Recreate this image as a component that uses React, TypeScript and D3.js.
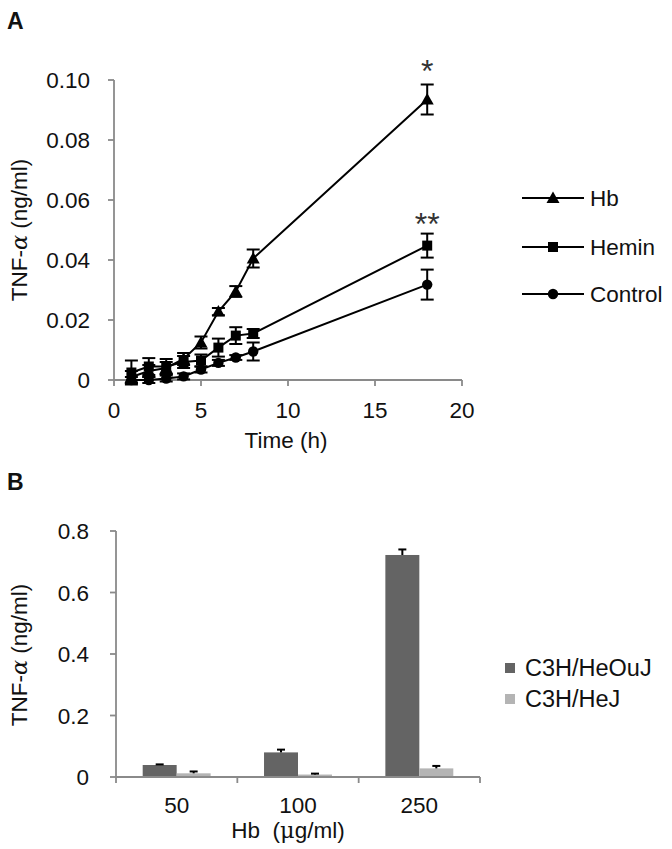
import React from "react";
import * as d3 from "d3";

const timeH = [1, 2, 3, 4, 5, 6, 7, 8, 18];
const hbVals = [0.001, 0.003, 0.004, 0.007, 0.0125, 0.0228, 0.0295, 0.0405, 0.0935];
const hbErr = [0.002, 0.002, 0.002, 0.002, 0.002, 0.0012, 0.0018, 0.003, 0.005];
const heminVals = [0.0025, 0.0045, 0.0045, 0.006, 0.0065, 0.0108, 0.0148, 0.0155, 0.0448];
const heminErr = [0.004, 0.0028, 0.0025, 0.002, 0.002, 0.003, 0.0028, 0.0015, 0.004];
const controlVals = [0, 0, 0.0005, 0.0012, 0.0035, 0.0057, 0.0075, 0.0095, 0.0318];
const controlErr = [0.001, 0.001, 0.001, 0.001, 0.001, 0.001, 0.0008, 0.003, 0.005];
const seriesNames = ["Hb", "Hemin", "Control"];
const yTicksA = [0, 0.02, 0.04, 0.06, 0.08, 0.1];
const xTicksA = [0, 5, 10, 15, 20];

const doses = ["50", "100", "250"];
const heoujVals = [0.039, 0.08, 0.722];
const heoujErr = [0.002, 0.009, 0.018];
const hejVals = [0.012, 0.008, 0.028];
const hejErr = [0.006, 0.003, 0.008];
const barNames = ["C3H/HeOuJ", "C3H/HeJ"];
const yTicksB = [0, 0.2, 0.4, 0.6, 0.8];

const FONT = "'Liberation Sans', Arial, sans-serif";
const AXIS = "#8a8a8a";
const DARK = "#646464";
const LIGHT = "#b4b4b4";
const FS = 22.5;

function Marker({ type, x, y }: { type: string; x: number; y: number }) {
  if (type === "tri") {
    const s = 6.5;
    return <path d={`M${x},${y - s}L${x + s},${y + s * 0.75}L${x - s},${y + s * 0.75}Z`} fill="#000" />;
  }
  if (type === "sq") return <rect x={x - 5} y={y - 5} width={10} height={10} fill="#000" />;
  return <circle cx={x} cy={y} r={5.2} fill="#000" />;
}

export default function App() {
  // Panel A
  const xA = d3.scaleLinear().domain([0, 20]).range([114, 462]);
  const yA = d3.scaleLinear().domain([0, 0.1]).range([380, 80]);
  const series = [
    { name: seriesNames[2], vals: controlVals, err: controlErr, m: "circ" },
    { name: seriesNames[1], vals: heminVals, err: heminErr, m: "sq" },
    { name: seriesNames[0], vals: hbVals, err: hbErr, m: "tri" },
  ];
  const line = d3
    .line<number>()
    .x((_, i) => xA(timeH[i]))
    .y((d) => yA(d));

  // Panel B
  const xB = d3.scaleBand<string>().domain(doses).range([116, 480]);
  const yB = d3.scaleLinear().domain([0, 0.8]).range([777, 531]);
  const barW = xB.bandwidth() * 0.28;

  const legendA = [
    { name: seriesNames[0], m: "tri", y: 198 },
    { name: seriesNames[1], m: "sq", y: 247 },
    { name: seriesNames[2], m: "circ", y: 294 },
  ];

  return (
    <svg width={672} height={849} style={{ position: "absolute", left: 0, top: 0, background: "#fff" }} fontFamily={FONT}>
      <rect width={672} height={849} fill="#fff" />
      {/* Panel A label */}
      <text x={7} y={29} fontSize={23} fontWeight="bold" fill="#111">A</text>

      {/* Axes A */}
      <line x1={114} x2={114} y1={yA(0.1)} y2={yA(0)} stroke={AXIS} strokeWidth={1.8} />
      <line x1={114} x2={462} y1={380} y2={380} stroke={AXIS} strokeWidth={1.8} />
      {yTicksA.map((t) => (
        <g key={t}>
          <line x1={108} x2={114} y1={yA(t)} y2={yA(t)} stroke={AXIS} strokeWidth={1.8} />
          <text x={90} y={yA(t)} dy="0.36em" textAnchor="end" fontSize={FS} fill="#111">
            {t === 0 ? "0" : t.toFixed(2)}
          </text>
        </g>
      ))}
      {xTicksA.map((t) => (
        <g key={t}>
          <line x1={xA(t)} x2={xA(t)} y1={380} y2={386} stroke={AXIS} strokeWidth={1.8} />
          <text x={xA(t)} y={410} dy="0.36em" textAnchor="middle" fontSize={FS} fill="#111">{t}</text>
        </g>
      ))}
      <text x={286} y={440} dy="0.36em" textAnchor="middle" fontSize={FS} fill="#111">Time (h)</text>
      <text transform={`translate(27,230) rotate(-90)`} textAnchor="middle" fontSize={FS} fill="#111">
        TNF-<tspan fontStyle="italic" fontFamily="'DejaVu Serif', serif">α</tspan> (ng/ml)
      </text>

      {/* Series A */}
      {series.map((s) => (
        <g key={s.name}>
          <path d={line(s.vals) || ""} fill="none" stroke="#000" strokeWidth={2} />
          {s.vals.map((v, i) => {
            const x = xA(timeH[i]);
            const y1 = yA(v + s.err[i]);
            const y2 = yA(v - s.err[i]);
            return (
              <g key={i}>
                <line x1={x} x2={x} y1={y1} y2={y2} stroke="#000" strokeWidth={2} />
                <line x1={x - 6.5} x2={x + 6.5} y1={y1} y2={y1} stroke="#000" strokeWidth={2} />
                <line x1={x - 6.5} x2={x + 6.5} y1={y2} y2={y2} stroke="#000" strokeWidth={2} />
                <Marker type={s.m} x={x} y={yA(v)} />
              </g>
            );
          })}
        </g>
      ))}
      <text x={xA(18)} y={82} textAnchor="middle" fontSize={32} fill="#333">*</text>
      <text x={xA(18)} y={235} textAnchor="middle" fontSize={32} fill="#333">**</text>

      {/* Legend A */}
      {legendA.map((l) => (
        <g key={l.name}>
          <line x1={522} x2={584} y1={l.y} y2={l.y} stroke="#000" strokeWidth={2} />
          <Marker type={l.m} x={553} y={l.y} />
          <text x={590} y={l.y} dy="0.36em" fontSize={FS} fill="#111">{l.name}</text>
        </g>
      ))}

      {/* Panel B label */}
      <text x={7} y={490} fontSize={23} fontWeight="bold" fill="#111">B</text>

      {/* Bars B */}
      {doses.map((d, i) => {
        const cx = (xB(d) || 0) + xB.bandwidth() / 2;
        const bars = [
          { v: heoujVals[i], e: heoujErr[i], c: DARK, x: cx - barW },
          { v: hejVals[i], e: hejErr[i], c: LIGHT, x: cx },
        ];
        return (
          <g key={d}>
            {bars.map((b, j) => (
              <g key={j}>
                <rect x={b.x} y={yB(b.v)} width={barW} height={yB(0) - yB(b.v)} fill={b.c} />
                <line x1={b.x + barW / 2} x2={b.x + barW / 2} y1={yB(b.v)} y2={yB(b.v + b.e)} stroke="#000" strokeWidth={2} />
                <line x1={b.x + barW / 2 - 4} x2={b.x + barW / 2 + 4} y1={yB(b.v + b.e)} y2={yB(b.v + b.e)} stroke="#000" strokeWidth={2} />
              </g>
            ))}
          </g>
        );
      })}

      {/* Axes B */}
      <line x1={116} x2={116} y1={yB(0.8)} y2={yB(0)} stroke={AXIS} strokeWidth={1.8} />
      <line x1={116} x2={480} y1={777} y2={777} stroke={AXIS} strokeWidth={1.8} />
      {yTicksB.map((t) => (
        <g key={t}>
          <line x1={110} x2={116} y1={yB(t)} y2={yB(t)} stroke={AXIS} strokeWidth={1.8} />
          <text x={89} y={yB(t)} dy="0.36em" textAnchor="end" fontSize={FS} fill="#111">
            {t === 0 ? "0" : t.toFixed(1)}
          </text>
        </g>
      ))}
      {[...doses.map((d) => xB(d) || 0), 480].map((x, i) => (
        <line key={i} x1={x} x2={x} y1={777} y2={783} stroke={AXIS} strokeWidth={1.8} />
      ))}
      {doses.map((d) => (
        <text key={d} x={(xB(d) || 0) + xB.bandwidth() / 2} y={805} dy="0.36em" textAnchor="middle" fontSize={FS} fill="#111">{d}</text>
      ))}
      <text x={288} y={830} dy="0.36em" textAnchor="middle" fontSize={FS} fill="#111" xmlSpace="preserve">
        Hb  (<tspan fontFamily="'DejaVu Serif', serif">μ</tspan>g/ml)
      </text>
      <text transform={`translate(27,655) rotate(-90)`} textAnchor="middle" fontSize={FS} fill="#111">
        TNF-<tspan fontStyle="italic" fontFamily="'DejaVu Serif', serif">α</tspan> (ng/ml)
      </text>

      {/* Legend B */}
      {barNames.map((n, i) => (
        <g key={n}>
          <rect x={505} y={668 + i * 31 - 5} width={10} height={10} fill={i === 0 ? DARK : LIGHT} />
          <text x={525} y={668 + i * 31} dy="0.36em" fontSize={23.5} fill="#111">{n}</text>
        </g>
      ))}
    </svg>
  );
}
